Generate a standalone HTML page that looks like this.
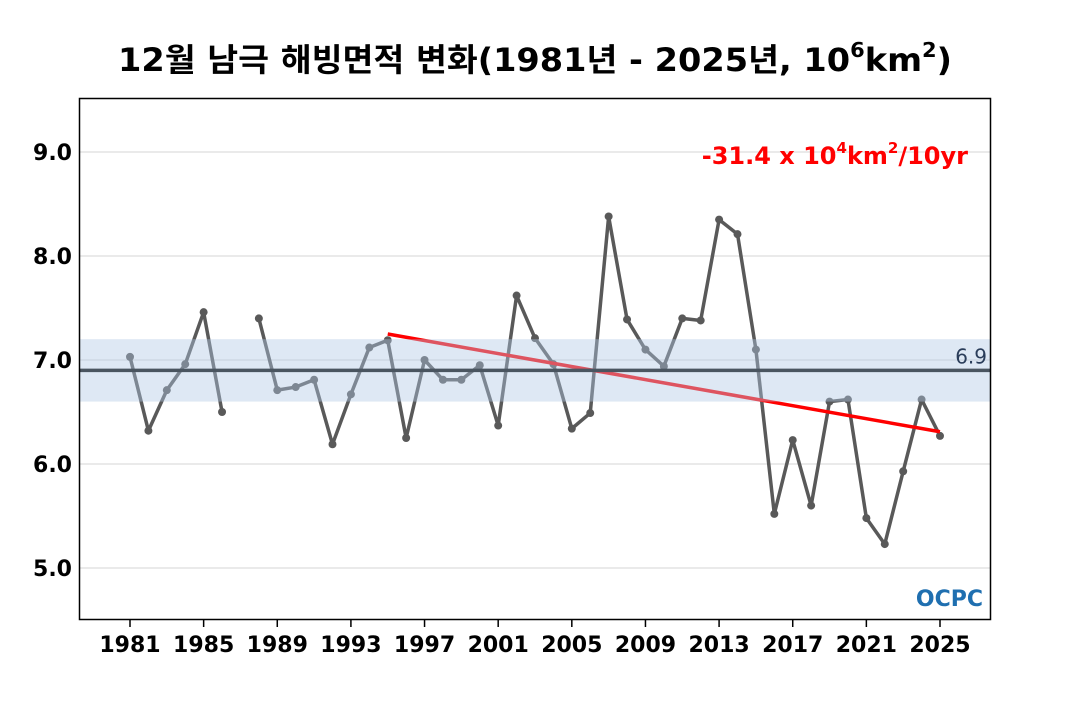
<!DOCTYPE html>
<html><head><meta charset="utf-8"><style>
body{margin:0;background:#fff;}
svg text{font-family:"DejaVu Sans","Noto Sans CJK KR",sans-serif;}
</style></head><body>
<svg width="1070" height="700" xmlns="http://www.w3.org/2000/svg">
<text x="535" y="71" text-anchor="middle" font-size="32" font-weight="bold" textLength="834" lengthAdjust="spacingAndGlyphs">12월 남극 해빙면적 변화(1981년 - 2025년, 10<tspan font-size="20" dy="-14">6</tspan><tspan dy="14">km</tspan><tspan font-size="20" dy="-14">2</tspan><tspan dy="14">)</tspan></text>
<g id="grid"></g>
<g id="series"></g>
<rect x="80" y="339.6" width="910" height="62.4" fill="rgba(176,200,228,0.42)" id="band"/>
<g id="over"></g>
<rect x="79.5" y="98.5" width="911" height="521" fill="none" stroke="#000" stroke-width="1.5"/>
<text x="968" y="164" text-anchor="end" font-size="24" font-weight="bold" fill="#ff0000">-31.4 x 10<tspan font-size="15" dy="-11">4</tspan><tspan dy="11">km</tspan><tspan font-size="15" dy="-11">2</tspan><tspan dy="11">/10yr</tspan></text>
<text x="983" y="606" text-anchor="end" font-size="22" font-weight="bold" fill="#1f6fb0">OCPC</text>
</svg>
<script>
const years=[];for(let y=1981;y<=2025;y++)years.push(y);
const values=[7.03,6.32,6.71,6.96,7.46,6.50,null,7.40,6.71,6.74,6.81,6.19,6.67,7.12,7.19,6.25,7.00,6.81,6.81,6.95,6.37,7.62,7.21,6.96,6.34,6.49,8.38,7.39,7.10,6.94,7.40,7.38,8.35,8.21,7.10,5.52,6.23,5.60,6.60,6.62,5.48,5.23,5.93,6.62,6.27];
const yTicks=[5.0,6.0,7.0,8.0,9.0];
const xTicks=[1981,1985,1989,1993,1997,2001,2005,2009,2013,2017,2021,2025];
const meanValue=6.9;
const bandRange=[6.6,7.2];
const trendYears=[1995,2025];
const trendValues=[7.25,6.31];
const NS="http://www.w3.org/2000/svg";
const X=yr=>130+(yr-1981)*(810/44);
const Y=v=>152+(9-v)*104;
function mk(t,a,p){const e=document.createElementNS(NS,t);for(const k in a)e.setAttribute(k,a[k]);p.appendChild(e);return e;}
const grid=document.getElementById('grid'),ser=document.getElementById('series'),ov=document.getElementById('over');
const band=document.getElementById('band');band.setAttribute('y',Y(bandRange[1]));band.setAttribute('height',Y(bandRange[0])-Y(bandRange[1]));
yTicks.forEach(v=>{
 const l=mk('line',{x1:80,x2:990,y1:Y(v),y2:Y(v),stroke:'#e3e3e3','stroke-width':1.5},grid);
 
 
 const t=mk('text',{x:72,y:Y(v)+8,'text-anchor':'end','font-size':22,'font-weight':'bold'},grid);t.textContent=v.toFixed(1);
 
 
});
xTicks.forEach(yr=>{
 const l=mk('line',{x1:X(yr),x2:X(yr),y1:620,y2:627,stroke:'#000','stroke-width':1.5},grid);
 
 
 const t=mk('text',{x:X(yr),y:652,'text-anchor':'middle','font-size':22,'font-weight':'bold'},grid);t.textContent=yr;
 
 
});
let d='',pen=false;
values.forEach((v,i)=>{if(v===null){pen=false;return;}d+=(pen?'L':'M')+X(years[i])+' '+Y(v)+' ';pen=true;});
const p=mk('path',{d:d,fill:'none',stroke:'#595959','stroke-width':3.5,'stroke-linejoin':'round'},ser);


values.forEach((v,i)=>{if(v===null)return;
 const c=mk('circle',{cx:X(years[i]),cy:Y(v),r:4,fill:'#595959'},ser);
 
 
});
const tr=mk('line',{x1:X(trendYears[0]),y1:Y(trendValues[0]),x2:X(trendYears[1]),y2:Y(trendValues[1]),stroke:'#ff0000','stroke-width':3.5},ser);


const m=mk('line',{x1:80,x2:990,y1:Y(meanValue),y2:Y(meanValue),stroke:'#4a5560','stroke-width':3.5},ov);


const mt=mk('text',{x:987,y:Y(meanValue)-7,'text-anchor':'end','font-size':20,fill:'#2a3d5a'},ov);mt.textContent=meanValue.toFixed(1);


</script>
</body></html>
